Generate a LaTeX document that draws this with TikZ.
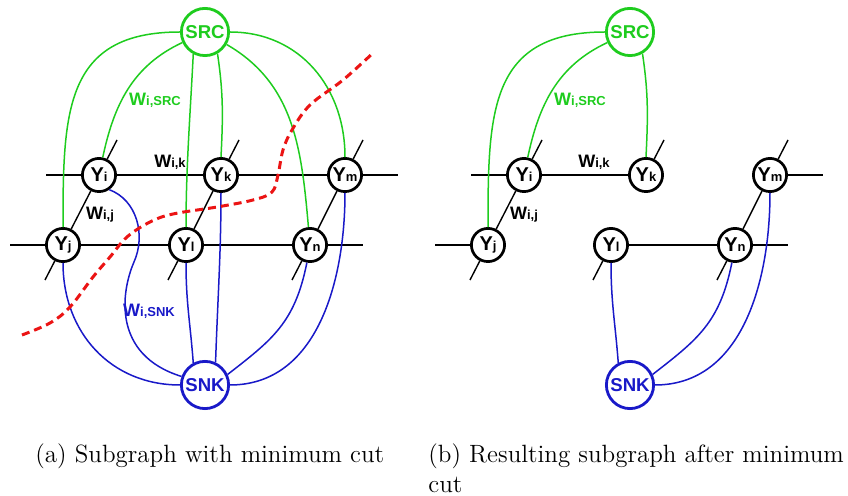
\documentclass[tikz,border=0pt]{standalone}
\usepackage{fontspec}
\setsansfont{Liberation Sans}
\definecolor{srcgreen}{RGB}{30,204,30}
\definecolor{snkblue}{RGB}{25,25,200}
\definecolor{cutred}{RGB}{235,20,20}
% main letter with a smaller index on the same baseline
\newcommand\sublab[2]{#1{\fontsize{6.5}{7}\selectfont #2}}
\newcommand\ylab[1]{Y{\fontsize{6.5}{7}\selectfont #1}}
\tikzset{
  ynode/.style={circle,draw=black,line width=1.35pt,fill=white,inner sep=0pt,
    minimum size=16.6pt,font=\sffamily\bfseries\fontsize{10}{11}\selectfont},
  srcnode/.style={circle,draw=srcgreen,line width=1.4pt,fill=white,inner sep=0pt,
    minimum size=23.6pt,text=srcgreen,font=\sffamily\bfseries\fontsize{9.3}{11}\selectfont},
  snknode/.style={srcnode,draw=snkblue,text=snkblue},
  grid/.style={draw=black,line width=0.7pt},
  gedge/.style={draw=srcgreen,line width=0.75pt},
  bedge/.style={draw=snkblue,line width=0.75pt},
  cutline/.style={draw=cutred,line width=1.5pt,dash pattern=on 4pt off 2.5pt},
  wlab/.style={inner sep=0pt,font=\sffamily\bfseries\fontsize{9}{10}\selectfont},
  capt/.style={inner sep=0pt,anchor=base west,font=\fontsize{12.5}{15}\selectfont}
}
\begin{document}
\begin{tikzpicture}[x=0.5pt,y=0.5pt]
\useasboundingbox (0,0) rectangle (848,-496);

% ---------------- (a) full subgraph ----------------
\node[srcnode] (SRCa) at (205,-32) {SRC};
\node[snknode] (SNKa) at (205,-385) {SNK};
\node[ynode] (Yia) at (99,-175) {\ylab{i}};
\node[ynode] (Yka) at (221,-175) {\ylab{k}};
\node[ynode] (Yma) at (345,-175) {\ylab{m}};
\node[ynode] (Yja) at (63,-245) {\ylab{j}};
\node[ynode] (Yla) at (186,-245) {\ylab{l}};
\node[ynode] (Yna) at (310,-245) {\ylab{n}};

\coordinate (r1La) at (46,-175);  \coordinate (r1Ra) at (398,-175);
\coordinate (r2La) at (10,-245);  \coordinate (r2Ra) at (363,-245);
\coordinate (dJa) at (45,-280);   \coordinate (uIa) at (117,-140);
\coordinate (dLa) at (168,-280);  \coordinate (uKa) at (239,-140);
\coordinate (dNa) at (292,-280);  \coordinate (uMa) at (363,-140);

\draw[grid] (r1La) -- (Yia) -- (Yka) -- (Yma) -- (r1Ra);
\draw[grid] (r2La) -- (Yja) -- (Yla) -- (Yna) -- (r2Ra);
\draw[grid] (dJa) -- (Yja) -- (Yia) -- (uIa);
\draw[grid] (dLa) -- (Yla) -- (Yka) -- (uKa);
\draw[grid] (dNa) -- (Yna) -- (Yma) -- (uMa);

% source edges
\draw[gedge] (SRCa) to[out=180,in=90,looseness=1.3] (Yja);
\draw[gedge] (SRCa) to[out=205,in=78] (Yia);
\draw[gedge] (SRCa.-118) .. controls +(-3,-60) and +(0,60) .. (Yla.north);
\draw[gedge] (SRCa.-60) .. controls +(6,-40) and +(2,40) .. (Yka.north);
\draw[gedge] (SRCa) to[out=-30,in=95] (Yna);
\draw[gedge] (SRCa) to[out=0,in=90,looseness=1.05] (Yma);

% sink edges
\draw[bedge] (Yja) to[out=-90,in=180,looseness=1.05] (SNKa);
\draw[bedge] (Yia.-55) .. controls (137,-200) and (146,-235) .. (134,-262)
  .. controls (121,-292) and (112,-355) .. (SNKa.160);
\draw[bedge] (Yla.south) .. controls +(0,-40) and +(-3,40) .. (SNKa.118);
\draw[bedge] (Yka.south) .. controls +(0,-60) and +(2,60) .. (SNKa.65);
\draw[bedge] (Yna.-100) .. controls +(-12,-60) and +(45,35) .. (SNKa.25);
\draw[bedge] (Yma) to[out=-90,in=0] (SNKa);

\node[wlab,text=srcgreen] (wsrca) at (155,-100) {\sublab{W}{i,SRC}};
\node[wlab] (wika) at (170,-162) {\sublab{W}{i,k}};
\node[wlab] (wija) at (100,-215) {\sublab{W}{i,j}};
\node[wlab,text=snkblue] (wsnka) at (149,-311) {\sublab{W}{i,SNK}};

% minimum cut
\draw[cutline] plot[smooth,tension=0.6] coordinates {
  (22,-335) (50,-323) (70,-307) (93,-277) (110,-257) (127,-237) (150,-222)
  (173,-214) (217,-207) (253,-200) (272,-192) (278,-175) (283,-150)
  (292,-130) (310,-105) (343,-80) (373,-53)};

% ---------------- (b) after the cut ----------------
\node[srcnode] (SRCb) at (630,-32) {SRC};
\node[snknode] (SNKb) at (630,-385) {SNK};
\node[ynode] (Yib) at (524,-175) {\ylab{i}};
\node[ynode] (Ykb) at (646,-175) {\ylab{k}};
\node[ynode] (Ymb) at (770,-175) {\ylab{m}};
\node[ynode] (Yjb) at (488,-245) {\ylab{j}};
\node[ynode] (Ylb) at (611,-245) {\ylab{l}};
\node[ynode] (Ynb) at (735,-245) {\ylab{n}};

\coordinate (r1Lb) at (471,-175); \coordinate (r1Rb) at (823,-175);
\coordinate (r2Lb) at (435,-245); \coordinate (r2Rb) at (788,-245);
\coordinate (dJb) at (470,-280);  \coordinate (uIb) at (542,-140);
\coordinate (uKb) at (664,-140);  \coordinate (dLb) at (593,-280);
\coordinate (dNb) at (717,-280);  \coordinate (uMb) at (788,-140);

\draw[grid] (r1Lb) -- (Yib) -- (Ykb);
\draw[grid] (Ymb) -- (r1Rb);
\draw[grid] (r2Lb) -- (Yjb);
\draw[grid] (Ylb) -- (Ynb) -- (r2Rb);
\draw[grid] (dJb) -- (Yjb) -- (Yib) -- (uIb);
\draw[grid] (Ykb) -- (uKb);
\draw[grid] (Ylb) -- (dLb);
\draw[grid] (dNb) -- (Ynb) -- (Ymb) -- (uMb);

\draw[gedge] (SRCb) to[out=180,in=90,looseness=1.3] (Yjb);
\draw[gedge] (SRCb) to[out=205,in=78] (Yib);
\draw[gedge] (SRCb.-60) .. controls +(6,-40) and +(2,40) .. (Ykb.north);

\draw[bedge] (Ylb.south) .. controls +(0,-40) and +(-3,40) .. (SNKb.118);
\draw[bedge] (Ynb.-100) .. controls +(-12,-60) and +(45,35) .. (SNKb.25);
\draw[bedge] (Ymb) to[out=-90,in=0] (SNKb);

\node[wlab,text=srcgreen] (wsrcb) at (580,-100) {\sublab{W}{i,SRC}};
\node[wlab] (wikb) at (594,-162) {\sublab{W}{i,k}};
\node[wlab] (wijb) at (524,-215) {\sublab{W}{i,j}};

% ---------------- captions ----------------
\node[capt] (capa) at (35,-463) {(a) Subgraph with minimum cut};
\node[capt] (capb) at (428,-463) {(b) Resulting subgraph after minimum};
\node[capt] (capc) at (428,-493) {cut};
\end{tikzpicture}
\end{document}
